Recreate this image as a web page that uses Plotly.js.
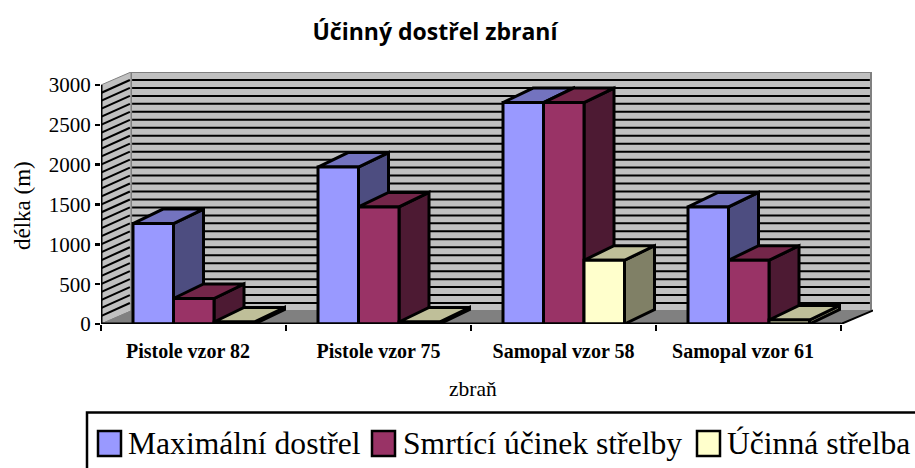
<!DOCTYPE html>
<html>
<head>
<meta charset="utf-8">
<script src="https://cdn.plot.ly/plotly-3.0.1.min.js"></script>
<style>html,body{margin:0;padding:0;background:#fff;overflow:hidden}</style>
</head>
<body>
<div id="chart" style="width:915px;height:468px"></div>
<script>
const categories = ["Pistole vzor 82", "Pistole vzor 75", "Samopal vzor 58", "Samopal vzor 61"];
const seriesNames = ["Maximální dostřel", "Smrtící účinek střelby", "Účinná střelba"];
const maxRange = [1260, 1970, 2780, 1470];
const lethalEffect = [320, 1470, 2780, 800];
const effectiveFire = [25, 25, 800, 50];
const yTicks = [0, 500, 1000, 1500, 2000, 2500, 3000];

const frontColors = ["#9999FF", "#993366", "#FFFFCC"];
const topColors = ["#7373BF", "#732649", "#BFBF99"];
const sideColors = ["#4D4D80", "#4D1A33", "#808066"];

const W = 915, H = 468;
const L = 101, R = 873, T = 72, B = 324;
const groupPx = 185, pxPerUnit = 239 / 3000;
const xMax = (R - L) / groupPx, yMax = (B - T) / pxPerUnit;
const barStart = 32 / groupPx, barWidth = 40.5 / groupPx;
const depthX = 30 / groupPx, depthY = 14.5 / pxPerUnit;
const wallX = 30 / groupPx, wallY = 13 / pxPerUnit;
const labelOffset = [0.47, 0.5, 0.5, 0.47];
const px = v => (v - L) / (R - L);
const py = v => (B - v) / (B - T);
const nCat = categories.length;

const traces = [];
const poly = (xs, ys, fill, lineColor, width) => ({
  type: "scatter", mode: "lines", x: xs, y: ys, fill: fill ? "toself" : "none",
  fillcolor: fill || undefined, line: {color: lineColor, width: width},
  cliponaxis: false, showlegend: false, hoverinfo: "skip"
});

// walls and floor
traces.push(poly([wallX, nCat + wallX, nCat + wallX, wallX, wallX], [wallY, wallY, 3000 + wallY, 3000 + wallY, wallY], "#C0C0C0", "#808080", 2));
traces.push(poly([0, wallX, wallX, 0, 0], [0, wallY, 3000 + wallY, 3000, 0], "#C0C0C0", "#808080", 1));
const gx = [], gy = [], lx = [], ly = [];
for (let v = 100; v <= 2900; v += 100) {
  gx.push(wallX + 0.006, nCat + wallX - 0.006, null); gy.push(v + wallY, v + wallY, null);
  lx.push(0, wallX - 0.006, null); ly.push(v, v + wallY, null);
}
traces.push(poly(gx, gy, null, "#000", 2));
traces.push(poly(lx, ly, null, "#000", 2));
traces.push(poly([0, wallX, nCat + wallX, nCat, 0], [0, wallY, wallY, 0, 0], "#808080", "#808080", 1));
traces.push(poly([nCat, nCat + wallX + 0.02], [0, wallY + 15], null, "#000", 2));

// bars, one series at a time, built from the data
[maxRange, lethalEffect, effectiveFire].forEach((values, s) => {
  const fx = [], fy = [], sx = [], sy = [], tx = [], ty = [];
  values.forEach((v, c) => {
    const a = c + barStart + s * barWidth, b = a + barWidth;
    fx.push(a, b, b, a, a, null); fy.push(0, 0, v, v, 0, null);
    sx.push(b, b + depthX, b + depthX, b, b, null); sy.push(0, depthY, v + depthY, v, 0, null);
    tx.push(a, b, b + depthX, a + depthX, a, null); ty.push(v, v, v + depthY, v + depthY, v, null);
  });
  const side = poly(sx, sy, sideColors[s], "#000", 3);
  const top = poly(tx, ty, topColors[s], "#000", 3);
  const front = poly(fx, fy, frontColors[s], "#000", 3);
  front.name = seriesNames[s];
  traces.push(side, top, front);
});

// axis lines
traces.push(poly([0, nCat], [0, 0], null, "#000", 3));
traces.push(poly([0, 0], [0, 3000], null, "#000", 3));

const serif = "Liberation Serif, Times New Roman, serif";
const shapes = [{type: "rect", xref: "paper", yref: "paper", x0: px(87), x1: px(930), y0: py(412.5), y1: py(480), line: {color: "#000", width: 2.5}, fillcolor: "#fff"}];
const annotations = [
  {xref: "paper", yref: "paper", x: px(473), y: py(389), xanchor: "center", yanchor: "middle", text: "zbraň", showarrow: false, font: {family: serif, size: 21.5, color: "#000"}},
  {xref: "paper", yref: "paper", x: px(22), y: py(206), xanchor: "center", yanchor: "middle", text: "délka (m)", textangle: -90, showarrow: false, font: {family: serif, size: 23, color: "#000"}}
];
const legendSwatch = [98, 372, 697], legendText = [126, 401, 725];
seriesNames.forEach((n, i) => {
  shapes.push({type: "rect", xref: "paper", yref: "paper", x0: px(legendSwatch[i]), x1: px(legendSwatch[i] + 23), y0: py(431), y1: py(456), line: {color: "#000", width: 2.5}, fillcolor: frontColors[i]});
  annotations.push({xref: "paper", yref: "paper", x: px(legendText[i]), y: py(443), xanchor: "left", yanchor: "middle", text: n, showarrow: false, font: {family: serif, size: 31.6, color: "#000"}});
});

Plotly.newPlot("chart", traces, {
  width: W, height: H, margin: {l: L, r: W - R, t: T, b: H - B, pad: 0},
  paper_bgcolor: "#fff", plot_bgcolor: "rgba(0,0,0,0)", showlegend: false,
  title: {text: "<b>Účinný dostřel zbraní</b>", x: 435 / W, xanchor: "center", y: 1 - 32 / H, yanchor: "middle", font: {family: "Open Sans, sans-serif", size: 23, color: "#000"}},
  xaxis: {range: [0, xMax], tickmode: "array", tickvals: categories.map((c, i) => i + labelOffset[i]), ticktext: categories,
    ticks: "outside", ticklen: 9, tickcolor: "rgba(0,0,0,0)", tickfont: {family: serif, size: 20, color: "#000", weight: "bold"},
    showgrid: false, zeroline: false, showline: false, fixedrange: true,
    minor: {tickmode: "array", tickvals: categories.map((c, i) => i).concat([nCat]), ticks: "outside", ticklen: 6, tickwidth: 2.5, tickcolor: "#000", showgrid: false}},
  yaxis: {range: [0, yMax], tickmode: "array", tickvals: yTicks, ticks: "outside", ticklen: 5, tickwidth: 2.5, tickcolor: "#000",
    tickfont: {family: serif, size: 21, color: "#000"}, showgrid: false, zeroline: false, showline: false, fixedrange: true},
  shapes: shapes, annotations: annotations
}, {displayModeBar: false, staticPlot: true});
</script>
</body>
</html>
